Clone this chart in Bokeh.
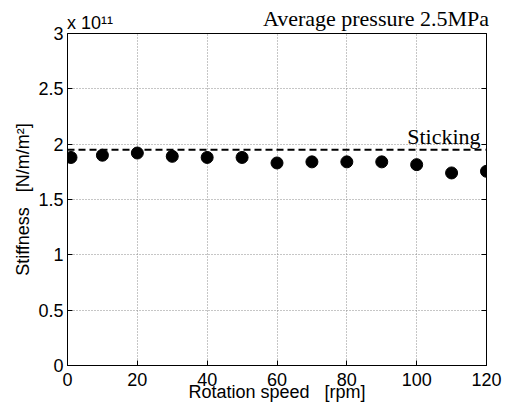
from bokeh.plotting import figure
from bokeh.models import Span, Label, LinearAxis, FixedTicker, Range1d, ColumnDataSource
from bokeh.embed import file_html
from bokeh.resources import INLINE

# Data (stiffness in units of 1e11 N/m/m^2)
speed = [1, 10, 20, 30, 40, 50, 60, 70, 80, 90, 100, 110, 120]
stiffness = [1.88, 1.90, 1.92, 1.89, 1.88, 1.88, 1.83, 1.84, 1.84, 1.84, 1.815, 1.74, 1.755]
sticking = 1.95
x_ticks = [0, 20, 40, 60, 80, 100, 120]
y_ticks = [0, 0.5, 1, 1.5, 2, 2.5, 3]
y_tick_labels = ["0", "0.5", "1", "1.5", "2", "2.5", "3"]

SANS = "Liberation Sans"
SERIF = "Liberation Serif"
NB = "\u00a0"

p = figure(width=505, height=407, output_backend="svg", toolbar_location=None,
           x_range=Range1d(0, 120), y_range=Range1d(0, 3),
           min_border_left=67, min_border_right=19, min_border_top=33, min_border_bottom=42)
p.background_fill_color = "white"
p.border_fill_color = "white"
p.outline_line_color = "black"
p.outline_line_width = 1

p.add_layout(LinearAxis(), "right")

for ax in p.xaxis:
    ax.ticker = FixedTicker(ticks=x_ticks)
for ax in p.yaxis:
    ax.ticker = FixedTicker(ticks=y_ticks)
    ax.major_label_overrides = {t: s for t, s in zip(y_ticks, y_tick_labels)}

for ax in list(p.xaxis) + list(p.yaxis):
    ax.major_tick_in = 5
    ax.major_tick_out = 0
    ax.minor_tick_line_color = None
    ax.axis_line_color = "black"
    ax.major_tick_line_color = "black"
    ax.major_label_text_font = SANS
    ax.major_label_text_font_size = "18px"
    ax.major_label_text_color = "black"
    ax.axis_label_text_font = SANS
    ax.axis_label_text_font_style = "normal"
    ax.axis_label_text_font_size = "18px"
    ax.axis_label_text_color = "black"

p.right[0].major_label_text_color = None
p.right[0].major_label_standoff = 0

p.below[0].major_label_standoff = 7
p.below[0].axis_label = "Rotation speed" + NB * 3 + "[rpm]"
p.below[0].axis_label_standoff = -7
p.left[0].major_label_standoff = 4
p.left[0].axis_label = "Stiffness" + NB * 3 + "[N/m/m\u00b2]"
p.left[0].axis_label_standoff = 2

# texts above the frame, carried by label-only axes on the top side
exp_axis = LinearAxis(ticker=FixedTicker(ticks=[]),
                      axis_label=NB * 9 + "x 10\u00b9\u00b9", axis_label_standoff=1,
                      axis_label_align="start",
                      axis_label_text_font=SANS, axis_label_text_font_size="18px",
                      axis_label_text_font_style="normal", axis_label_text_color="black",
                      axis_line_color=None, major_tick_line_color=None,
                      minor_tick_line_color=None, major_label_standoff=0)
title_axis = LinearAxis(ticker=FixedTicker(ticks=[]),
                        axis_label=NB * 36 + "Average pressure 2.5MPa", axis_label_standoff=-21,
                        axis_label_align="center",
                        axis_label_text_font=SERIF, axis_label_text_font_size="22px",
                        axis_label_text_font_style="normal", axis_label_text_color="black",
                        axis_line_color=None, major_tick_line_color=None,
                        minor_tick_line_color=None, major_label_standoff=0)
p.add_layout(exp_axis, "above")
p.add_layout(title_axis, "above")

p.xgrid.ticker = FixedTicker(ticks=x_ticks)
p.ygrid.ticker = FixedTicker(ticks=y_ticks)
for g in (p.xgrid, p.ygrid):
    g.grid_line_color = "#8c8c8c"
    g.grid_line_dash = "1 2"
    g.grid_line_width = 1

p.add_layout(Span(location=sticking, dimension="width", line_color="black",
                  line_width=2, line_dash="7 4"))

src = ColumnDataSource(dict(x=speed, y=stiffness))
p.scatter("x", "y", source=src, size=12, fill_color="black", line_color="black", marker="circle")

p.add_layout(Label(x=118.3, y=2.07, text="Sticking", text_align="right",
                   text_baseline="alphabetic", text_color="black",
                   text_font=SERIF, text_font_size="22px"))

open("out.html", "w").write(file_html(p, INLINE))
